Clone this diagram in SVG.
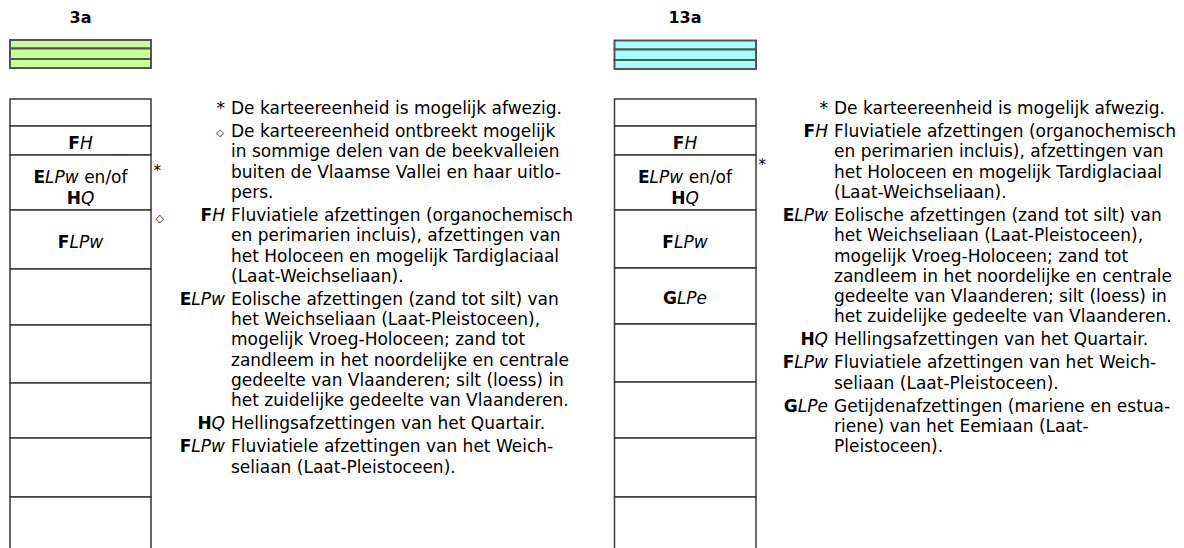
<svg xmlns="http://www.w3.org/2000/svg" width="1184" height="548" viewBox="0 0 1184 548">
<style>
text{font-family:"DejaVu Sans",Verdana,sans-serif;fill:#000}
.t{font-size:16px;font-weight:bold;text-anchor:middle}
.bx{font-size:17px;text-anchor:middle}
.lg{font-size:17px}
.lb{font-size:17px;text-anchor:end}
.b{font-weight:bold}
.i{font-style:italic}
.bar{stroke:#555;stroke-width:2}
.cell{fill:#fff;stroke:#3a3a3a;stroke-width:1.5}
.mk{font-size:15px}
</style>
<rect width="1184" height="548" fill="#fff"/>

<g id="col-3a">
<text class="t" x="80.5" y="22.5">3a</text>
<g id="bar-3a">
<rect class="bar" x="10" y="40" width="141" height="8.5" fill="#c9ff99"/>
<rect class="bar" x="10" y="48.5" width="141" height="10.5" fill="#c9ff99"/>
<rect class="bar" x="10" y="59" width="141" height="9" fill="#c9ff99"/>
</g>
<rect class="cell" x="10" y="99" width="141" height="27"/>
<g id="l-FH"><rect class="cell" x="10" y="126" width="141" height="29"/>
<text class="bx" x="80.5" y="148.5"><tspan class="b">F</tspan><tspan class="i">H</tspan></text></g>
<g id="l-ELPw"><rect class="cell" x="10" y="155" width="141" height="55"/>
<text class="bx" x="80.5" y="182.5"><tspan class="b">E</tspan><tspan class="i">LPw</tspan> en/of</text>
<text class="bx" x="80.5" y="203.5"><tspan class="b">H</tspan><tspan class="i">Q</tspan></text></g>
<g id="l-FLPw"><rect class="cell" x="10" y="210" width="141" height="59"/>
<text class="bx" x="80.5" y="248"><tspan class="b">F</tspan><tspan class="i">LPw</tspan></text></g>
<rect class="cell" x="10" y="269" width="141" height="56"/>
<rect class="cell" x="10" y="325" width="141" height="58"/>
<rect class="cell" x="10" y="383" width="141" height="55"/>
<rect class="cell" x="10" y="438" width="141" height="59"/>
<rect class="cell" x="10" y="497" width="141" height="60"/>
<text class="mk" x="153.5" y="176">*</text>
<text x="155.5" y="222" style="font-size:11px">◇</text>
</g>

<g id="legend-3a">
<text class="lb" x="225" y="114">*</text>
<text class="lg" x="231" y="114">De karteereenheid is mogelijk afwezig.</text>
<text class="lb" x="224" y="136" style="font-size:10px">◇</text>
<text class="lg" x="231" y="137">De karteereenheid ontbreekt mogelijk</text>
<text class="lg" x="231" y="157.3">in sommige delen van de beekvalleien</text>
<text class="lg" x="231" y="177.6">buiten de Vlaamse Vallei en haar uitlo-</text>
<text class="lg" x="231" y="197.9">pers.</text>
<text class="lb" x="225" y="220.9"><tspan class="b">F</tspan><tspan class="i">H</tspan></text>
<text class="lg" x="231" y="220.9">Fluviatiele afzettingen (organochemisch</text>
<text class="lg" x="231" y="241.2">en perimarien incluis), afzettingen van</text>
<text class="lg" x="231" y="261.5">het Holoceen en mogelijk Tardiglaciaal</text>
<text class="lg" x="231" y="281.8">(Laat-Weichseliaan).</text>
<text class="lb" x="225" y="304.8"><tspan class="b">E</tspan><tspan class="i">LPw</tspan></text>
<text class="lg" x="231" y="304.8">Eolische afzettingen (zand tot silt) van</text>
<text class="lg" x="231" y="325.1">het Weichseliaan (Laat-Pleistoceen),</text>
<text class="lg" x="231" y="345.4">mogelijk Vroeg-Holoceen; zand tot</text>
<text class="lg" x="231" y="365.7">zandleem in het noordelijke en centrale</text>
<text class="lg" x="231" y="386">gedeelte van Vlaanderen; silt (loess) in</text>
<text class="lg" x="231" y="406.3">het zuidelijke gedeelte van Vlaanderen.</text>
<text class="lb" x="225" y="429.3"><tspan class="b">H</tspan><tspan class="i">Q</tspan></text>
<text class="lg" x="231" y="429.3">Hellingsafzettingen van het Quartair.</text>
<text class="lb" x="225" y="452.3"><tspan class="b">F</tspan><tspan class="i">LPw</tspan></text>
<text class="lg" x="231" y="452.3">Fluviatiele afzettingen van het Weich-</text>
<text class="lg" x="231" y="472.6">seliaan (Laat-Pleistoceen).</text>
</g>

<g id="col-13a">
<text class="t" x="685" y="22.5">13a</text>
<g id="bar-13a">
<rect class="bar" x="614.5" y="40.5" width="141.5" height="9" fill="#a6ffff"/>
<rect class="bar" x="614.5" y="49.5" width="141.5" height="10.5" fill="#a6ffff"/>
<rect class="bar" x="614.5" y="60" width="141.5" height="9" fill="#a6ffff"/>
</g>
<rect class="cell" x="614.5" y="99" width="141.5" height="27"/>
<g id="r-FH"><rect class="cell" x="614.5" y="126" width="141.5" height="29"/>
<text class="bx" x="685" y="148.5"><tspan class="b">F</tspan><tspan class="i">H</tspan></text></g>
<g id="r-ELPw"><rect class="cell" x="614.5" y="155" width="141.5" height="55"/>
<text class="bx" x="685" y="182.5"><tspan class="b">E</tspan><tspan class="i">LPw</tspan> en/of</text>
<text class="bx" x="685" y="203.5"><tspan class="b">H</tspan><tspan class="i">Q</tspan></text></g>
<g id="r-FLPw"><rect class="cell" x="614.5" y="210" width="141.5" height="58"/>
<text class="bx" x="685" y="248"><tspan class="b">F</tspan><tspan class="i">LPw</tspan></text></g>
<g id="r-GLPe"><rect class="cell" x="614.5" y="268" width="141.5" height="56"/>
<text class="bx" x="685" y="304"><tspan class="b">G</tspan><tspan class="i">LPe</tspan></text></g>
<rect class="cell" x="614.5" y="324" width="141.5" height="58"/>
<rect class="cell" x="614.5" y="382" width="141.5" height="56"/>
<rect class="cell" x="614.5" y="438" width="141.5" height="59"/>
<rect class="cell" x="614.5" y="497" width="141.5" height="60"/>
<text class="mk" x="758.5" y="170">*</text>
</g>

<g id="legend-13a">
<text class="lb" x="828" y="114">*</text>
<text class="lg" x="834" y="114">De karteereenheid is mogelijk afwezig.</text>
<text class="lb" x="828" y="137"><tspan class="b">F</tspan><tspan class="i">H</tspan></text>
<text class="lg" x="834" y="137">Fluviatiele afzettingen (organochemisch</text>
<text class="lg" x="834" y="157.3">en perimarien incluis), afzettingen van</text>
<text class="lg" x="834" y="177.6">het Holoceen en mogelijk Tardiglaciaal</text>
<text class="lg" x="834" y="197.9">(Laat-Weichseliaan).</text>
<text class="lb" x="828" y="220.9"><tspan class="b">E</tspan><tspan class="i">LPw</tspan></text>
<text class="lg" x="834" y="220.9">Eolische afzettingen (zand tot silt) van</text>
<text class="lg" x="834" y="241.2">het Weichseliaan (Laat-Pleistoceen),</text>
<text class="lg" x="834" y="261.5">mogelijk Vroeg-Holoceen; zand tot</text>
<text class="lg" x="834" y="281.8">zandleem in het noordelijke en centrale</text>
<text class="lg" x="834" y="302.1">gedeelte van Vlaanderen; silt (loess) in</text>
<text class="lg" x="834" y="322.4">het zuidelijke gedeelte van Vlaanderen.</text>
<text class="lb" x="828" y="345.4"><tspan class="b">H</tspan><tspan class="i">Q</tspan></text>
<text class="lg" x="834" y="345.4">Hellingsafzettingen van het Quartair.</text>
<text class="lb" x="828" y="368.4"><tspan class="b">F</tspan><tspan class="i">LPw</tspan></text>
<text class="lg" x="834" y="368.4">Fluviatiele afzettingen van het Weich-</text>
<text class="lg" x="834" y="388.7">seliaan (Laat-Pleistoceen).</text>
<text class="lb" x="828" y="411.7"><tspan class="b">G</tspan><tspan class="i">LPe</tspan></text>
<text class="lg" x="834" y="411.7">Getijdenafzettingen (mariene en estua-</text>
<text class="lg" x="834" y="432">riene) van het Eemiaan (Laat-</text>
<text class="lg" x="834" y="452.3">Pleistoceen).</text>
</g>
</svg>
